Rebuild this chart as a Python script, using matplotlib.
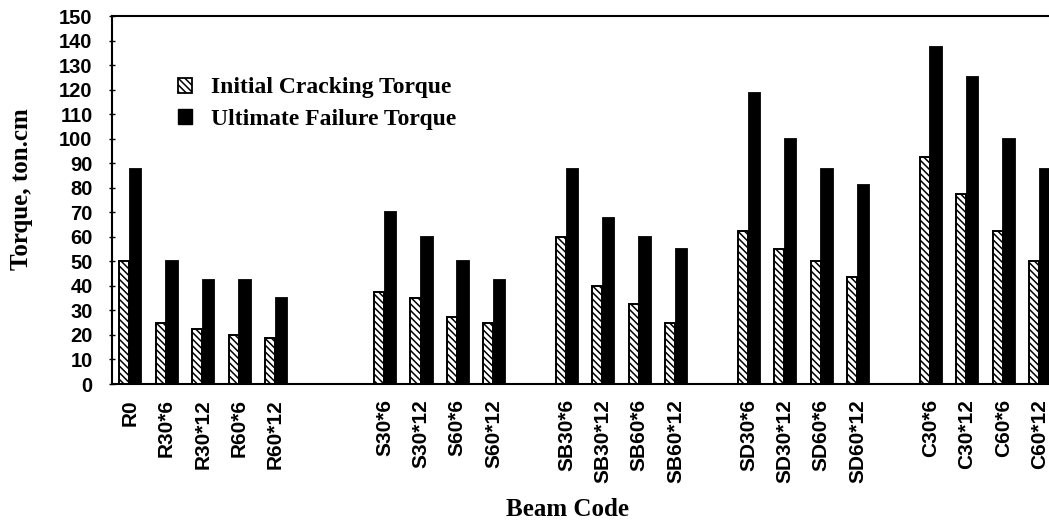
"""Initial cracking vs ultimate failure torque per beam code."""

import numpy as np
import matplotlib
matplotlib.use("Agg")
import matplotlib.pyplot as plt
from matplotlib.patches import Patch

# beam codes, None marks an empty slot between groups
beam_codes = [
    "R0", "R30*6", "R30*12", "R60*6", "R60*12", None, None,
    "S30*6", "S30*12", "S60*6", "S60*12", None,
    "SB30*6", "SB30*12", "SB60*6", "SB60*12", None,
    "SD30*6", "SD30*12", "SD60*6", "SD60*12", None,
    "C30*6", "C30*12", "C60*6", "C60*12",
]
cracking = [
    50, 25, 22.5, 20, 18.75, None, None,
    37.5, 35, 27.5, 25, None,
    60, 40, 32.5, 25, None,
    62.5, 55, 50, 43.75, None,
    92.5, 77.5, 62.5, 50,
]
ultimate = [
    87.5, 50, 42.5, 42.5, 35, None, None,
    70, 60, 50, 42.5, None,
    87.5, 67.5, 60, 55, None,
    118.75, 100, 87.5, 81.25, None,
    137.5, 125, 100, 87.5,
]
y_ticks = list(range(0, 151, 10))

serif = ["Liberation Serif", "DejaVu Serif"]
sans = ["Liberation Sans", "DejaVu Sans"]

plt.rcParams["hatch.linewidth"] = 1.1
plt.rcParams["hatch.color"] = "#333333"

fig = plt.figure(figsize=(10.49, 5.20), dpi=100)
ax = fig.add_axes([0.1068, 0.2615, 0.905, 0.7077])

idx = [i for i, c in enumerate(beam_codes) if c is not None]
x = np.array(idx, dtype=float)
crack_vals = [cracking[i] for i in idx]
ult_vals = [ultimate[i] for i in idx]
labels = [beam_codes[i] for i in idx]

w = 0.3
ax.bar(x - w / 2, crack_vals, width=w * 0.92, color="white", edgecolor="black",
       linewidth=1.4, hatch="\\\\\\\\\\", zorder=2)
ax.bar(x + w / 2 + 0.01, ult_vals, width=w * 1.05, color="black", edgecolor="black",
       linewidth=1.3, zorder=2)

ax.set_xlim(-0.49, 25.6)
ax.set_ylim(0, 150)
ax.set_yticks(y_ticks)
ax.set_xticks(x)
ax.set_xticklabels(labels, rotation=90, fontfamily=sans, fontweight="bold",
                   fontsize=15, va="top")
for lab in ax.get_yticklabels():
    lab.set_fontfamily(sans)
    lab.set_fontweight("bold")
    lab.set_fontsize(14.5)
ax.tick_params(axis="y", length=4, width=1, direction="inout", pad=12)
ax.tick_params(axis="x", length=0, pad=11)

for side in ("left", "top", "bottom"):
    ax.spines[side].set_linewidth(1.5)
ax.spines["right"].set_visible(False)

ax.set_ylabel("Torque, ton.cm", fontfamily=serif, fontweight="bold", fontsize=18)
ax.yaxis.set_label_coords(-0.083, 0.53)
ax.set_xlabel("Beam Code", fontfamily=serif, fontweight="bold", fontsize=18)
ax.xaxis.set_label_coords(0.48, -0.31)

handles = [
    Patch(facecolor="white", edgecolor="black", hatch="\\\\\\\\\\", linewidth=1.3,
          label="Initial Cracking Torque"),
    Patch(facecolor="black", edgecolor="black", label="Ultimate Failure Torque"),
]
ax.legend(handles=handles, loc="upper left", bbox_to_anchor=(0.052, 0.878),
          frameon=False, prop={"family": serif, "weight": "bold", "size": 17},
          handlelength=0.6, handleheight=0.6, handletextpad=0.8, labelspacing=0.45,
          borderpad=0.2)

fig.savefig("out.png", dpi=100)
